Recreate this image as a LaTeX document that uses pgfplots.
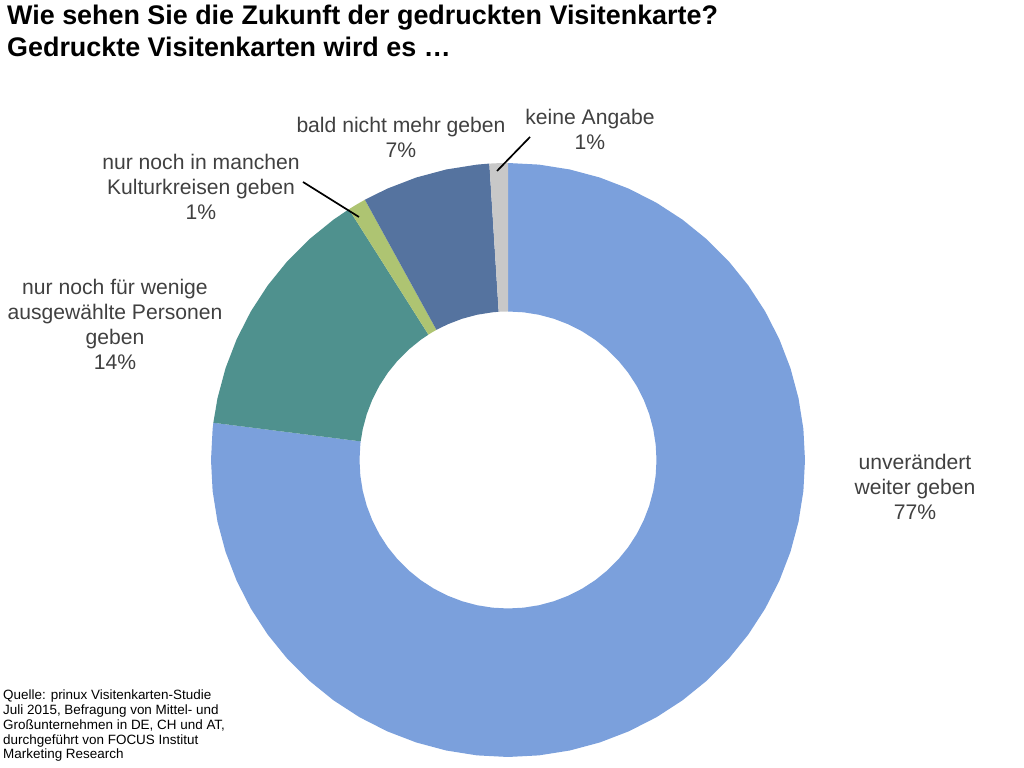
\documentclass[border=0pt]{standalone}
\usepackage{pgfplots}
\pgfplotsset{compat=1.18}
\usepackage{fontspec}
\setmainfont{Liberation Sans}

\definecolor{cBlue}{HTML}{7BA0DC}
\definecolor{cTeal}{HTML}{4F918E}
\definecolor{cGreen}{HTML}{AEC472}
\definecolor{cNavy}{HTML}{55739F}
\definecolor{cGray}{HTML}{C8C8C8}
\definecolor{txt}{HTML}{404040}

% shares: 77 / 14 / 1 / 7 / 1 %, clockwise from 12 o'clock
% wedges as (angle, radius) outlines, outer radius 297, inner 148.5

\begin{document}
\begin{tikzpicture}
\begin{axis}[
    x=1bp, y=1bp,
    xmin=-508, xmax=516, ymin=-308, ymax=460,
    hide axis, clip=false,
    every axis plot/.append style={data cs=polar, draw=none},
]
% unveraendert weiter geben 77%
\addplot[fill=cBlue] coordinates {
 (90,297) (84,297) (78,297) (72,297) (66,297) (60,297) (54,297) (48,297) (42,297) (36,297)
 (30,297) (24,297) (18,297) (12,297) (6,297) (0,297) (-6,297) (-12,297) (-18,297) (-24,297)
 (-30,297) (-36,297) (-42,297) (-48,297) (-54,297) (-60,297) (-66,297) (-72,297) (-78,297)
 (-84,297) (-90,297) (-96,297) (-102,297) (-108,297) (-114,297) (-120,297) (-126,297)
 (-132,297) (-138,297) (-144,297) (-150,297) (-156,297) (-162,297) (-168,297) (-174,297)
 (-180,297) (-186,297) (-187.2,297)
 (-187.2,148.5) (-186,148.5) (-180,148.5) (-174,148.5) (-168,148.5) (-162,148.5) (-156,148.5)
 (-150,148.5) (-144,148.5) (-138,148.5) (-132,148.5) (-126,148.5) (-120,148.5) (-114,148.5)
 (-108,148.5) (-102,148.5) (-96,148.5) (-90,148.5) (-84,148.5) (-78,148.5) (-72,148.5)
 (-66,148.5) (-60,148.5) (-54,148.5) (-48,148.5) (-42,148.5) (-36,148.5) (-30,148.5)
 (-24,148.5) (-18,148.5) (-12,148.5) (-6,148.5) (0,148.5) (6,148.5) (12,148.5) (18,148.5)
 (24,148.5) (30,148.5) (36,148.5) (42,148.5) (48,148.5) (54,148.5) (60,148.5) (66,148.5)
 (72,148.5) (78,148.5) (84,148.5) (90,148.5)
};
% nur noch fuer wenige ausgewaehlte Personen 14%
\addplot[fill=cTeal] coordinates {
 (172.8,297) (168,297) (162,297) (156,297) (150,297) (144,297) (138,297) (132,297) (126,297) (122.4,297)
 (122.4,148.5) (126,148.5) (132,148.5) (138,148.5) (144,148.5) (150,148.5) (156,148.5) (162,148.5) (168,148.5) (172.8,148.5)
};
% nur noch in manchen Kulturkreisen 1%
\addplot[fill=cGreen] coordinates {
 (122.4,297) (120.6,297) (118.8,297) (118.8,148.5) (120.6,148.5) (122.4,148.5)
};
% bald nicht mehr 7%
\addplot[fill=cNavy] coordinates {
 (118.8,297) (114,297) (108,297) (102,297) (96,297) (93.6,297)
 (93.6,148.5) (96,148.5) (102,148.5) (108,148.5) (114,148.5) (118.8,148.5)
};
% keine Angabe 1%
\addplot[fill=cGray] coordinates {
 (93.6,297) (91.8,297) (90,297) (90,148.5) (91.8,148.5) (93.6,148.5)
};

% leader lines
\addplot[data cs=cart, draw=black, line width=1.7bp] coordinates {(22,323) (-11,289)};
\addplot[data cs=cart, draw=black, line width=1.7bp] coordinates {(-205,278) (-149,243)};

% labels
\begin{scope}[every node/.style={align=center, text=txt, inner sep=0pt, font=\fontsize{21.2}{25}\selectfont}]
\node at (axis cs:407,-27) {unverändert\\weiter geben\\77\%};
\node at (axis cs:-107,322.5) {bald nicht mehr geben\\7\%};
\node at (axis cs:82,331) {keine Angabe\\1\%};
\node at (axis cs:-307,273) {nur noch in manchen\\Kulturkreisen geben\\1\%};
\node at (axis cs:-393,135.5) {nur noch für wenige\\ausgewählte Personen\\geben\\14\%};
\end{scope}

% title
\node[anchor=base west, inner sep=0pt, font=\fontsize{27}{32}\selectfont\bfseries] at (axis cs:-501,435)
  {Wie sehen Sie die Zukunft der gedruckten Visitenkarte?};
\node[anchor=base west, inner sep=0pt, font=\fontsize{27}{32}\selectfont\bfseries] at (axis cs:-501,403)
  {Gedruckte Visitenkarten wird es \ldots};

% source
\node[anchor=north west, align=left, inner sep=0pt, font=\fontsize{13.5}{14.8}\selectfont] at (axis cs:-505,-230)
  {Quelle: prinux Visitenkarten-Studie\\Juli 2015, Befragung von Mittel- und\\Großunternehmen in DE, CH und AT,\\durchgeführt von FOCUS Institut\\Marketing Research};

\path (rel axis cs:0,0) rectangle (rel axis cs:1,1);
\end{axis}
\end{tikzpicture}
\end{document}
